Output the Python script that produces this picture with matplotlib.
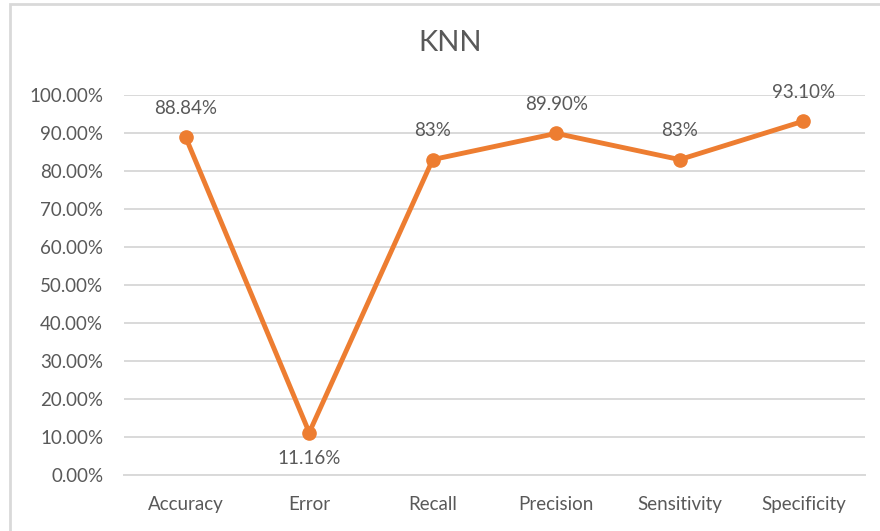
import matplotlib.pyplot as plt
from matplotlib.ticker import PercentFormatter
from matplotlib.patches import Rectangle

# values
metrics = ['Accuracy', 'Error', 'Recall', 'Precision', 'Sensitivity', 'Specificity']
scores = [0.8884, 0.1116, 0.83, 0.899, 0.83, 0.931]
labels = ['88.84%', '11.16%', '83%', '89.90%', '83%', '93.10%']

orange = '#ED7D31'
text_grey = '#595959'
grid_grey = '#D9D9D9'

plt.rcParams['font.family'] = ['Lato', 'DejaVu Sans']

fig = plt.figure(figsize=(8.8, 5.31), dpi=100)
ax = fig.add_axes([0.1409, 0.1055, 0.8420, 0.7156])

x = range(len(metrics))
ax.plot(x, scores, color=orange, linewidth=3.5, marker='o', markersize=9.5, zorder=3)

# data labels: above the point, except for the dip which goes below
for i, (v, lab) in enumerate(zip(scores, labels)):
    if v < 0.5:
        ax.annotate(lab, (i, v), xytext=(0, -19), textcoords='offset points',
                    ha='center', va='center', fontsize=13.5, color=text_grey)
    else:
        ax.annotate(lab, (i, v), xytext=(0, 21), textcoords='offset points',
                    ha='center', va='center', fontsize=13.5, color=text_grey)

ax.set_xlim(-0.5, len(metrics) - 0.5)
ax.set_ylim(0, 1.0)
ax.set_yticks([i / 10 for i in range(11)])
ax.yaxis.set_major_formatter(PercentFormatter(1.0, decimals=2))
ax.set_xticks(list(x))
ax.set_xticklabels(metrics)

ax.grid(axis='y', color=grid_grey, linewidth=1.4)
ax.set_axisbelow(True)
for side in ['top', 'right', 'left']:
    ax.spines[side].set_visible(False)
ax.spines['bottom'].set_color(grid_grey)
ax.spines['bottom'].set_linewidth(1.4)
ax.tick_params(axis='both', length=0, labelsize=13.5, labelcolor=text_grey)
ax.tick_params(axis='y', pad=15)
ax.tick_params(axis='x', pad=15)

ax.set_title('KNN', fontsize=21, color=text_grey, pad=32, x=0.44)

# light frame of the chart area (only top and left edges show)
fig.add_artist(Rectangle((10 / 880, -0.05), 1.0, 1.05 - 4 / 531,
                         transform=fig.transFigure, fill=False,
                         edgecolor=grid_grey, linewidth=2))

fig.savefig('out.png', dpi=100)
